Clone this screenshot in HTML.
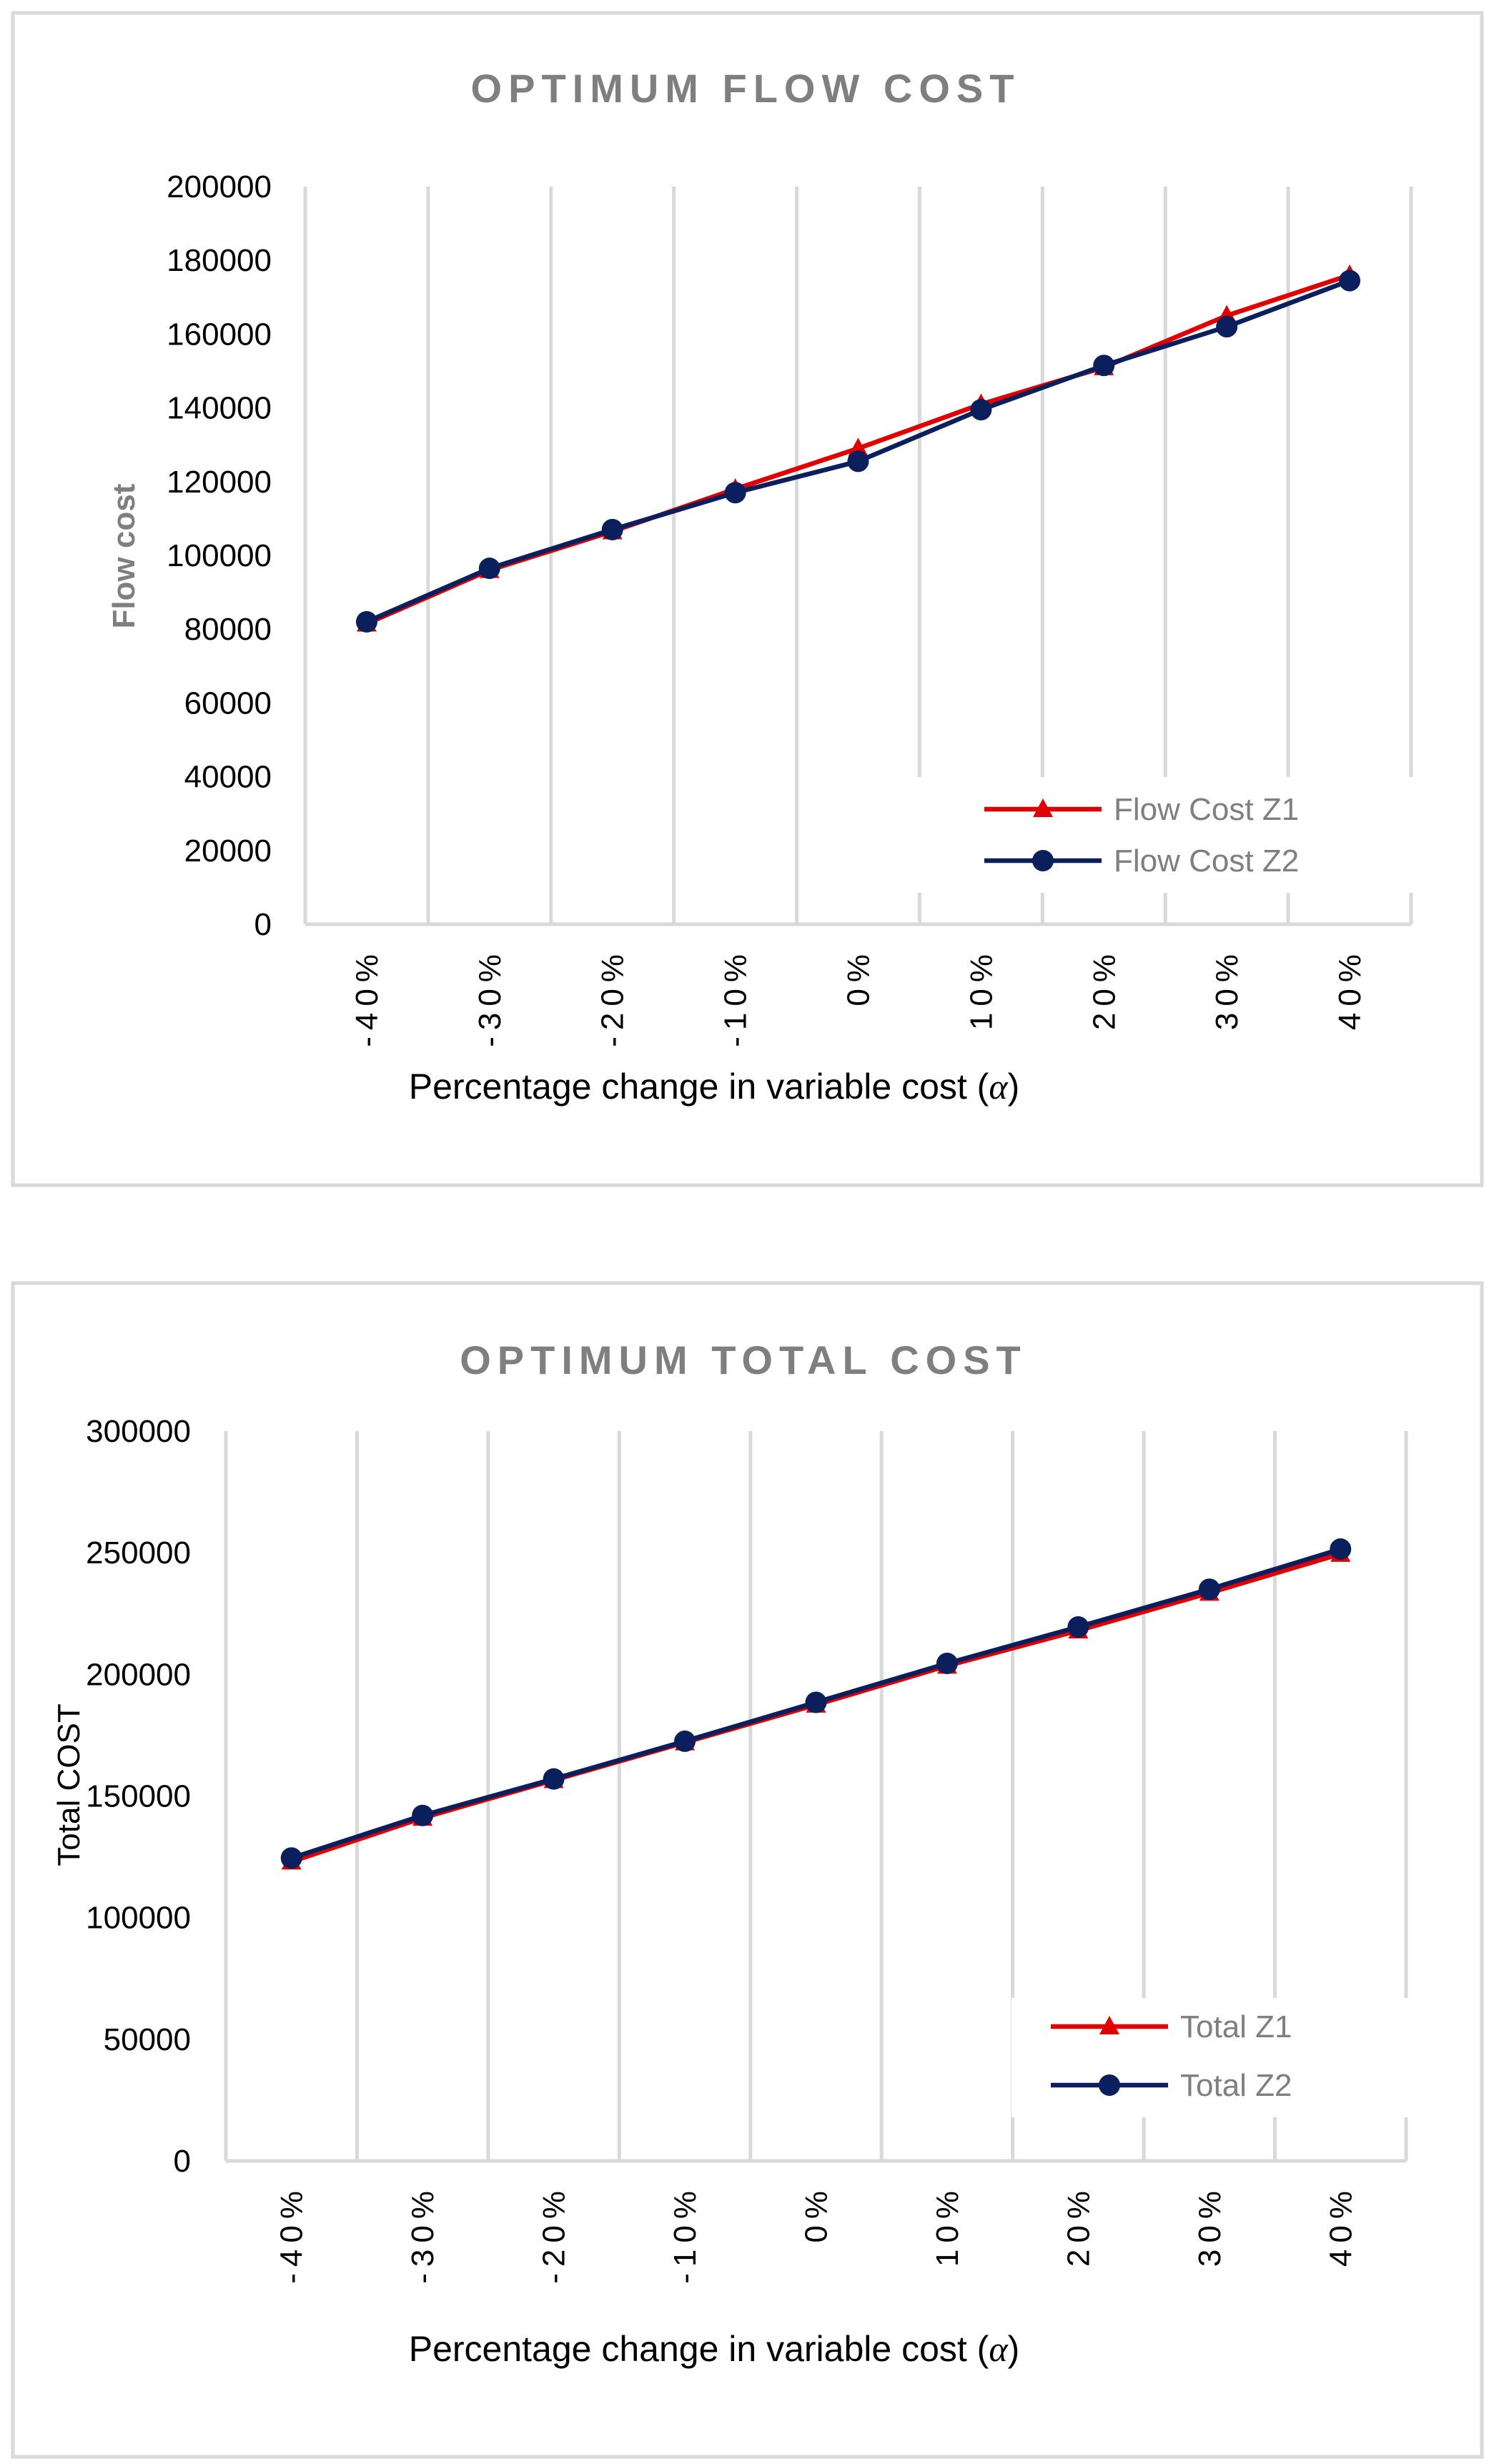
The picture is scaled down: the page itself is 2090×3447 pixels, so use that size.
<!DOCTYPE html>
<html><head><meta charset="utf-8">
<style>
html,body{margin:0;padding:0;background:#fff;}
svg{display:block;font-family:"Liberation Sans",sans-serif;}
</style></head>
<body>
<svg id="chart" width="2090" height="3447" viewBox="0 0 2090 3447" xmlns="http://www.w3.org/2000/svg"></svg>
<script>
const categories = ["-40%","-30%","-20%","-10%","0%","10%","20%","30%","40%"];
const flowZ1 = [81500, 96000, 106500, 118000, 129000, 141000, 151000, 165000, 176000];
const flowZ2 = [82000, 96500, 107000, 117000, 125500, 139500, 151500, 162000, 174500];
const flowTicks = [0,20000,40000,60000,80000,100000,120000,140000,160000,180000,200000];
const totalZ1 = [123000, 141000, 156500, 172000, 187500, 203500, 218000, 233500, 249500];
const totalZ2 = [124500, 142000, 157000, 172500, 188500, 204500, 219500, 235000, 251500];
const totalTicks = [0,50000,100000,150000,200000,250000,300000];

const NS = "http://www.w3.org/2000/svg";
const svg = document.getElementById('chart');
function mk(tag, attrs, parent, text){
  const e = document.createElementNS(NS, tag);
  for (const k in attrs) e.setAttribute(k, attrs[k]);
  if (text !== undefined) e.textContent = text;
  (parent || svg).appendChild(e);
  return e;
}

function drawChart(cfg){
  const g = mk('g', {});
  
  
  const frame = mk('rect', {x:cfg.box[0], y:cfg.box[1], width:cfg.box[2], height:cfg.box[3], fill:'#fff', stroke:'#d9d9d9', 'stroke-width':5}, g);
  
  
  const title = mk('text', {x:cfg.titleX, y:cfg.titleY, 'text-anchor':'middle', 'font-size':56, 'font-weight':'bold', fill:'#7f7f7f', 'letter-spacing':9}, g, cfg.title);
  
  

  const L = cfg.left, R = cfg.right, T = cfg.top, B = cfg.bottom;
  const n = categories.length;
  const step = (R - L) / n;
  const xPos = i => L + step * (i + 0.5);
  const yPos = v => B - (v / cfg.max) * (B - T);

  // vertical gridlines
  for (let i = 0; i <= n; i++) {
    const gx = L + step * i;
    const gl = mk('line', {x1:gx, y1:T, x2:gx, y2:B, stroke:'#d9d9d9', 'stroke-width':5}, g);
    
    
  }
  const ax = mk('line', {x1:L, y1:B, x2:R, y2:B, stroke:'#d9d9d9', 'stroke-width':5}, g);
  
  

  // y ticks
  cfg.ticks.forEach(t => {
    const tl = mk('text', {x:cfg.yLabelX, y:yPos(t) + 15, 'text-anchor':'end', 'font-size':44, fill:'#000'}, g, String(t));
    
    
  });
  // x ticks
  categories.forEach((c, i) => {
    const xl = mk('text', {x:0, y:0, 'text-anchor':'end', 'font-size':44, fill:'#000', 'letter-spacing':9,
      transform:`translate(${xPos(i) + 15},${B + 33}) rotate(-90)`}, g, c);
    
    
  });
  const xt = mk('text', {x:cfg.xTitleX, y:cfg.xTitleY, 'text-anchor':'middle', 'font-size':50, fill:'#000'}, g, 'Percentage change in variable cost (');
  const alpha = mk('tspan', {'font-style':'italic', 'font-family':'"Liberation Serif",serif'}, xt, 'α');
  mk('tspan', {}, xt, ')');
  
  
  const yt = mk('text', {x:0, y:0, 'text-anchor':'middle', 'font-size':cfg.yTitleSize, 'font-weight':cfg.yTitleBold ? 'bold':'normal', fill:cfg.yTitleColor,
    transform:`translate(${cfg.yTitleX},${cfg.yTitleY}) rotate(-90)`}, g, cfg.yTitle);
  
  

  // legend background
  const lb = mk('rect', {x:cfg.legBox[0], y:cfg.legBox[1], width:cfg.legBox[2], height:cfg.legBox[3], fill:'#fff'}, g);
  
  

  function tri(cx, cy, color, parent){
    return mk('polygon', {points:`${cx},${cy-15} ${cx+14},${cy+11} ${cx-14},${cy+11}`, fill:color}, parent);
  }
  function series(vals, color, marker, sname){
    const sg = mk('g', {}, g);
    
    
    const pts = vals.map((v, i) => `${xPos(i)},${yPos(v)}`).join(' ');
    mk('polyline', {points:pts, fill:'none', stroke:color, 'stroke-width':6.5, 'stroke-linejoin':'round'}, sg);
    vals.forEach((v, i) => {
      const m = marker === 'tri' ? tri(xPos(i), yPos(v), color, sg) : mk('circle', {cx:xPos(i), cy:yPos(v), r:15, fill:color}, sg);
      
      
    });
  }
  series(cfg.s1, '#e00000', 'tri', cfg.l1.toLowerCase().replace(/ /g,'-') + '-series');
  series(cfg.s2, '#0a1f5c', 'circ', cfg.l2.toLowerCase().replace(/ /g,'-') + '-series');

  // legend entries
  [[cfg.l1,'#e00000','tri',cfg.legY[0]],[cfg.l2,'#0a1f5c','circ',cfg.legY[1]]].forEach(([lab,col,mkr,ly]) => {
    const le = mk('g', {}, g);
    
    
    mk('line', {x1:cfg.legX, y1:ly, x2:cfg.legX + 164, y2:ly, stroke:col, 'stroke-width':6.5}, le);
    if (mkr === 'tri') tri(cfg.legX + 82, ly, col, le); else mk('circle', {cx:cfg.legX + 82, cy:ly, r:15, fill:col}, le);
    mk('text', {x:cfg.legX + 181, y:ly + 15, 'font-size':44, fill:'#7f7f7f'}, le, lab);
  });
}

drawChart({name:'flow-cost-chart', box:[18,18,2055,1640], title:'OPTIMUM FLOW COST', titleX:1043, titleY:143,
  left:427, right:1974, top:261, bottom:1293, max:200000, ticks:flowTicks, yLabelX:380,
  xTitleX:999, xTitleY:1537, yTitle:'Flow cost', yTitleX:188, yTitleY:778, yTitleSize:44, yTitleBold:true, yTitleColor:'#7f7f7f',
  legBox:[1282,1087,708,162], legX:1377, legY:[1132,1204], s1:flowZ1, s2:flowZ2, l1:'Flow Cost Z1', l2:'Flow Cost Z2'});

drawChart({name:'total-cost-chart', box:[18,1795,2055,1642], title:'OPTIMUM TOTAL COST', titleX:1040, titleY:1922,
  left:316, right:1967, top:2002, bottom:3023, max:300000, ticks:totalTicks, yLabelX:267,
  xTitleX:999, xTitleY:3303, yTitle:'Total COST', yTitleX:111, yTitleY:2497, yTitleSize:44, yTitleBold:false, yTitleColor:'#000',
  legBox:[1415,2795,575,167], legX:1470, legY:[2835,2917], s1:totalZ1, s2:totalZ2, l1:'Total Z1', l2:'Total Z2'});
</script>
</body></html>
